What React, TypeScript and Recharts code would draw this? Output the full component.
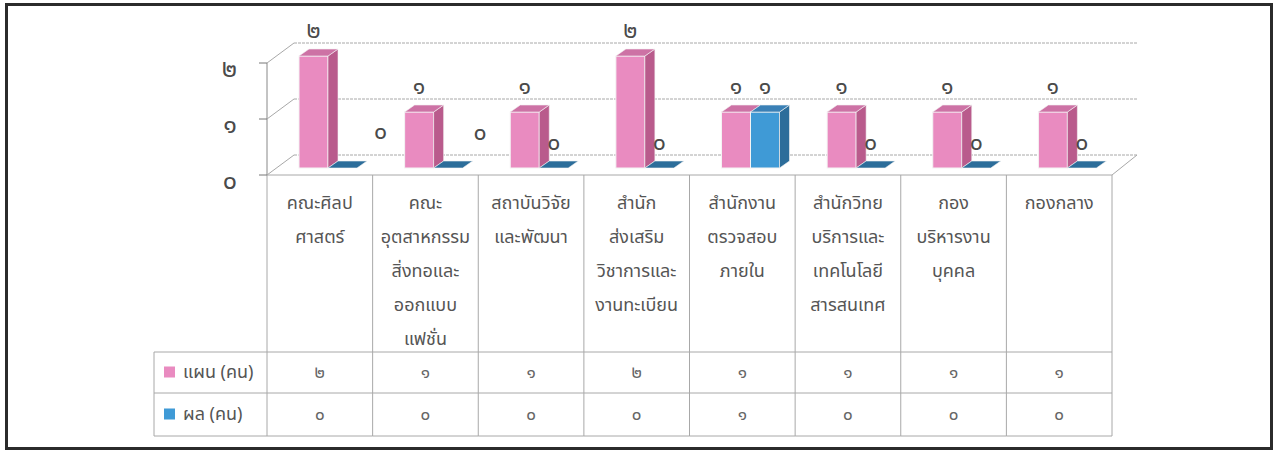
import { BarChart, Bar, XAxis, YAxis, CartesianGrid, LabelList } from "recharts";

// categories (line breaks as in the table header)
const categories = [
  "คณะศิลป\nศาสตร์",
  "คณะ\nอุตสาหกรรม\nสิ่งทอและ\nออกแบบ\nแฟชั่น",
  "สถาบันวิจัย\nและพัฒนา",
  "สำนัก\nส่งเสริม\nวิชาการและ\nงานทะเบียน",
  "สำนักงาน\nตรวจสอบ\nภายใน",
  "สำนักวิทย\nบริการและ\nเทคโนโลยี\nสารสนเทศ",
  "กอง\nบริหารงาน\nบุคคล",
  "กองกลาง",
];
const planValues = [2, 1, 1, 2, 1, 1, 1, 1];
const resultValues = [0, 0, 0, 0, 1, 0, 0, 0];
const seriesNames = ["แผน (คน)", "ผล (คน)"];
const yTicks = [0, 1, 2];

const data = categories.map((name, i) => ({
  name,
  plan: planValues[i],
  result: resultValues[i],
}));

// layout
const W = 1277;
const H = 452;
const LEFT = 267;
const RIGHT = 1112;
const TOP = 63;
const BOTTOM = 175;
const TABLE_BOTTOM = 436;
const ROW1 = 352;
const ROW2 = 393;
const LEGEND_LEFT = 154;
const WALL_DX = 27;
const WALL_DY = 20;
const BAR_DX = 8;
const BAR_DY = 7;
const SIDE = 10;
const TOPFACE = 7;
const FONT = "'Noto Sans Thai', 'Noto Sans', sans-serif";
const GRID = "#a8a8a8";

const colors = {
  plan: { front: "#e98bc0", side: "#b95b8c", top: "#cd72a5" },
  result: { front: "#3f9ad6", side: "#2c6d9a", top: "#3a80b6" },
};

// the two zero labels on the left were dragged aside in the original
const resultLabelNudge: Record<number, [number, number]> = { 0: [38, 11], 1: [32, 10] };

const thaiDigits = "๐๑๒๓๔๕๖๗๘๙";
const toThai = (v: number | string) =>
  String(v).replace(/[0-9]/g, (d) => thaiDigits[Number(d)]);

function makeShape(c: { front: string; side: string; top: string }) {
  return (props: any) => {
    const { x, y, width, height } = props;
    const fx = x + BAR_DX;
    const fy = y - BAR_DY;
    const h = Math.max(height, 0);
    return (
      <g>
        {h > 0 && (
          <rect x={fx} y={fy} width={width} height={h} fill={c.front} stroke="#f4f4f4" strokeWidth={1} />
        )}
        {h > 0 && (
          <polygon
            points={`${fx + width},${fy} ${fx + width + SIDE},${fy - TOPFACE} ${fx + width + SIDE},${fy + h - TOPFACE} ${fx + width},${fy + h}`}
            fill={c.side}
            stroke="#f4f4f4"
            strokeWidth={0.6}
          />
        )}
        <polygon
          points={`${fx},${fy} ${fx + SIDE},${fy - TOPFACE} ${fx + width + SIDE},${fy - TOPFACE} ${fx + width},${fy}`}
          fill={h > 0 ? c.top : c.side}
          stroke="#f4f4f4"
          strokeWidth={0.6}
        />
      </g>
    );
  };
}

function makeLabel(nudge: Record<number, [number, number]>) {
  return (props: any) => {
    const { x, y, width, value, index } = props;
    const [nx, ny] = nudge[index] || [0, 0];
    return (
      <text
        x={x + BAR_DX + width / 2 + nx}
        y={y - BAR_DY - TOPFACE - 18 - ny}
        textAnchor="middle"
        dominantBaseline="central"
        fontFamily={FONT}
        fontSize={23}
        fill="#4a4a4a"
      >
        {toThai(value)}
      </text>
    );
  };
}

const YTick = (props: any) => {
  const { y, payload } = props;
  return (
    <g>
      <line x1={LEFT - 8} y1={y} x2={LEFT} y2={y} stroke="#777" />
      <line x1={LEFT} y1={y} x2={LEFT + WALL_DX} y2={y - WALL_DY} stroke={GRID} />
      <text x={237} y={y + 6} textAnchor="end" dominantBaseline="central" fontFamily={FONT} fontSize={25} fill="#4a4a4a">
        {toThai(payload.value)}
      </text>
    </g>
  );
};

const XTick = (props: any) => {
  const { x, payload, index } = props;
  const bw = (RIGHT - LEFT) / categories.length;
  const l = x - bw / 2;
  const r = x + bw / 2;
  const lines = String(payload.value).split("\n");
  const rowText = (label: string, yy: number) => (
    <text x={x} y={yy} textAnchor="middle" dominantBaseline="central" fontFamily={FONT} fontSize={17} fill="#666">
      {label}
    </text>
  );
  return (
    <g>
      <line x1={r} y1={BOTTOM} x2={r} y2={TABLE_BOTTOM} stroke={GRID} />
      <line x1={l} y1={ROW1} x2={r} y2={ROW1} stroke={GRID} />
      <line x1={l} y1={ROW2} x2={r} y2={ROW2} stroke={GRID} />
      <line x1={l} y1={TABLE_BOTTOM} x2={r} y2={TABLE_BOTTOM} stroke={GRID} />
      {lines.map((s, k) => (
        <text
          key={k}
          x={x}
          y={203 + k * 34}
          textAnchor="middle"
          dominantBaseline="central"
          fontFamily={FONT}
          fontSize={18}
          fill="#555"
        >
          {s}
        </text>
      ))}
      {rowText(toThai(planValues[index]), (ROW1 + ROW2) / 2)}
      {rowText(toThai(resultValues[index]), (ROW2 + TABLE_BOTTOM) / 2)}
      {index === 0 && (
        <g>
          <line x1={LEFT} y1={BOTTOM} x2={LEFT} y2={TABLE_BOTTOM} stroke={GRID} />
          <line x1={LEGEND_LEFT} y1={ROW1} x2={LEFT} y2={ROW1} stroke={GRID} />
          <line x1={LEGEND_LEFT} y1={ROW2} x2={LEFT} y2={ROW2} stroke={GRID} />
          <line x1={LEGEND_LEFT} y1={TABLE_BOTTOM} x2={LEFT} y2={TABLE_BOTTOM} stroke={GRID} />
          <line x1={LEGEND_LEFT} y1={ROW1} x2={LEGEND_LEFT} y2={TABLE_BOTTOM} stroke={GRID} />
          {[colors.plan.front, colors.result.front].map((c, k) => {
            const cy = k === 0 ? (ROW1 + ROW2) / 2 : (ROW2 + TABLE_BOTTOM) / 2;
            return (
              <g key={k}>
                <rect x={164} y={cy - 6} width={11} height={11} fill={c} />
                <text x={183} y={cy} dominantBaseline="central" fontFamily={FONT} fontSize={18} fill="#555">
                  {seriesNames[k]}
                </text>
              </g>
            );
          })}
        </g>
      )}
      {index === categories.length - 1 && (
        <line x1={RIGHT} y1={BOTTOM} x2={RIGHT + WALL_DX - 2} y2={BOTTOM - WALL_DY} stroke={GRID} />
      )}
    </g>
  );
};

export default function App() {
  return (
    <div style={{ position: "absolute", left: 0, top: 0, width: W, height: H, background: "#fff" }}>
      <div
        style={{
          position: "absolute",
          left: 5,
          top: 3,
          width: 1268,
          height: 447,
          border: "3px solid #2b2b2b",
          boxSizing: "border-box",
        }}
      />
      <div style={{ position: "absolute", left: 0, top: 0 }}>
        <BarChart
          width={W}
          height={H}
          data={data}
          margin={{ top: TOP, right: W - RIGHT, bottom: 16, left: LEFT - 80 }}
          barGap={0}
          barSize={29}
        >
          <CartesianGrid
            vertical={false}
            horizontal={(p: any) => (
              <line
                key={p.key}
                x1={p.x1 + WALL_DX}
                y1={p.y1 - WALL_DY}
                x2={p.x2 + WALL_DX - 2}
                y2={p.y2 - WALL_DY}
                stroke={GRID}
                strokeDasharray="3 1"
              />
            )}
          />
          <XAxis
            dataKey="name"
            height={TABLE_BOTTOM - BOTTOM}
            tickLine={false}
            axisLine={{ stroke: GRID }}
            interval={0}
            tick={<XTick />}
          />
          <YAxis
            width={80}
            domain={[0, 2]}
            ticks={yTicks}
            tickLine={false}
            axisLine={{ stroke: "#888" }}
            tick={<YTick />}
          />
          <Bar dataKey="plan" isAnimationActive={false} shape={makeShape(colors.plan)}>
            <LabelList dataKey="plan" content={makeLabel({})} />
          </Bar>
          <Bar dataKey="result" isAnimationActive={false} shape={makeShape(colors.result)}>
            <LabelList dataKey="result" content={makeLabel(resultLabelNudge)} />
          </Bar>
        </BarChart>
      </div>
    </div>
  );
}
